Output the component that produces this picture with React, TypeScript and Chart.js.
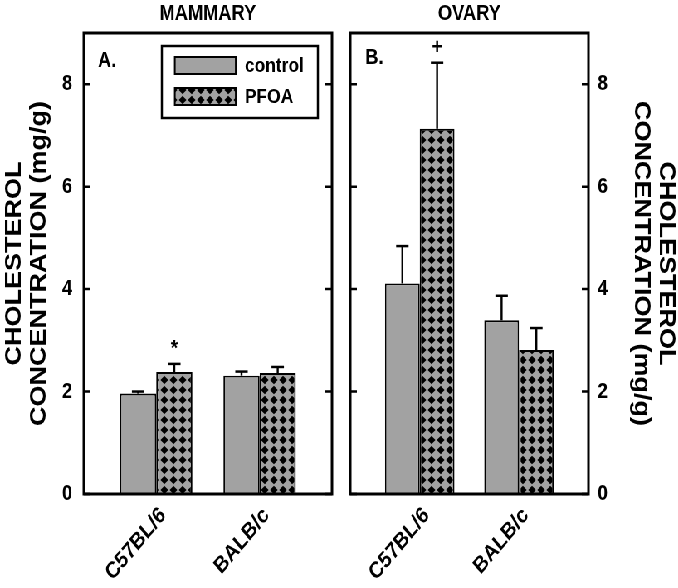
import { useEffect, useRef } from 'react';
import { Chart, registerables } from 'chart.js';

Chart.register(...registerables);

// ---------- data ----------
const categories = ['C57BL/6', 'BALB/c'];
const seriesLabels = ['control', 'PFOA'];
const yTicks = [0, 2, 4, 6, 8];
const yMax = 9;

const mammaryControl = [1.96, 2.31];
const mammaryControlErr = [0.04, 0.08];
const mammaryPfoa = [2.38, 2.36];
const mammaryPfoaErr = [0.16, 0.12];
const mammaryMarks = ['*', ''];

const ovaryControl = [4.11, 3.39];
const ovaryControlErr = [0.73, 0.48];
const ovaryPfoa = [7.13, 2.81];
const ovaryPfoaErr = [1.29, 0.43];
const ovaryMarks = ['+', ''];

const panelTitles = ['MAMMARY', 'OVARY'];
const panelLetters = ['A.', 'B.'];
const yTitle = ['CHOLESTEROL', 'CONCENTRATION (mg/g)'];

// ---------- style ----------
const SQUEEZE = 0.83;
const FONT = '"Liberation Sans", Arial, Helvetica, sans-serif';
const GRAY = '#a2a2a2';
const LEFT_W = 410;
const RIGHT_W = 407;
const H = 588;

Chart.defaults.font.family = FONT;

function makePattern(ctx: CanvasRenderingContext2D): CanvasPattern | string {
  const t = document.createElement('canvas');
  t.width = 11;
  t.height = 10;
  const c = t.getContext('2d');
  if (!c) return '#555';
  c.fillStyle = '#000';
  c.fillRect(0, 0, 11, 10);
  c.fillStyle = GRAY;
  c.beginPath();
  c.moveTo(5.5, -0.8);
  c.lineTo(11.8, 5);
  c.lineTo(5.5, 10.8);
  c.lineTo(-0.8, 5);
  c.closePath();
  c.fill();
  return ctx.createPattern(t, 'repeat') || '#555';
}

type PanelSpec = {
  title: string;
  letter: string;
  side: 'left' | 'right';
  control: number[];
  controlErr: number[];
  pfoa: number[];
  pfoaErr: number[];
  marks: string[];
  legend: boolean;
};

function buildPanel(canvas: HTMLCanvasElement, p: PanelSpec) {
  const ctx = canvas.getContext('2d') as CanvasRenderingContext2D;
  const pattern = makePattern(ctx);
  const errs = [p.controlErr, p.pfoaErr];
  const isLeft = p.side === 'left';

  const decor = {
    id: 'decor',
    afterDatasetsDraw(chart: any) {
      const c: CanvasRenderingContext2D = chart.ctx;
      const a = chart.chartArea;
      const y = chart.scales.y;
      c.save();
      c.strokeStyle = '#000';
      c.fillStyle = '#000';

      // error bars (upper only)
      chart.data.datasets.forEach((ds: any, i: number) => {
        const meta = chart.getDatasetMeta(i);
        meta.data.forEach((el: any, j: number) => {
          const v = ds.data[j].y;
          const top = y.getPixelForValue(v + errs[i][j]);
          c.lineWidth = 2.4;
          c.beginPath();
          c.moveTo(el.x, el.y);
          c.lineTo(el.x, top);
          c.stroke();
          c.lineWidth = 2.5;
          c.beginPath();
          c.moveTo(el.x - 7.5, top);
          c.lineTo(el.x + 7.5, top);
          c.stroke();
          if (i === 1 && p.marks[j]) {
            c.font = `bold 22px ${FONT}`;
            c.textAlign = 'center';
            c.textBaseline = 'bottom';
            c.fillText(p.marks[j], el.x, top - 4);
          }
        });
      });

      // frame
      c.lineWidth = 3;
      c.strokeRect(a.left, a.top, a.right - a.left, a.bottom - a.top);

      // inward ticks on both sides
      c.lineWidth = 2.5;
      yTicks.forEach((v) => {
        const py = y.getPixelForValue(v);
        c.beginPath();
        c.moveTo(a.left, py);
        c.lineTo(a.left + 8, py);
        c.moveTo(a.right - 8, py);
        c.lineTo(a.right, py);
        c.stroke();
      });

      // panel letter
      c.font = `bold 22px ${FONT}`;
      c.textAlign = 'left';
      c.textBaseline = 'middle';
      c.fillText(p.letter, a.left + (isLeft ? 17 : 18), a.top + (isLeft ? 28 : 25));

      // legend
      if (p.legend) {
        const lx = a.left + 94;
        const ly = a.top + 13;
        c.lineWidth = 2.5;
        c.strokeRect(lx, ly, 188, 72);
        chart.data.datasets.forEach((ds: any, i: number) => {
          const sy = ly + 11 + i * 31;
          c.fillStyle = ds.backgroundColor;
          c.fillRect(lx + 15.6, sy, 73.5, 17);
          c.lineWidth = 2;
          c.strokeRect(lx + 15.6, sy, 73.5, 17);
          c.fillStyle = '#000';
          c.font = `bold 21px ${FONT}`;
          c.textAlign = 'left';
          c.textBaseline = 'middle';
          c.fillText(ds.label, lx + 100, sy + 9);
        });
      }
      c.restore();
    },
  };

  const tickFont = { family: FONT, size: 22, weight: 'bold' as const };

  return new Chart(canvas, {
    type: 'bar',
    data: {
      datasets: [
        {
          label: seriesLabels[0],
          data: categories.map((_, i) => ({ x: i, y: p.control[i] })),
          backgroundColor: GRAY,
          borderColor: '#000',
          borderWidth: 1.8,
          categoryPercentage: 0.7,
          barPercentage: 1,
        },
        {
          label: seriesLabels[1],
          data: categories.map((_, i) => ({ x: i, y: p.pfoa[i] })),
          backgroundColor: pattern as any,
          borderColor: '#000',
          borderWidth: 2,
          categoryPercentage: 0.7,
          barPercentage: 1,
        },
      ] as any,
    },
    options: {
      animation: false,
      responsive: true,
      maintainAspectRatio: false,
      events: [],
      layout: {
        padding: isLeft
          ? { left: 0, right: 10, top: 0, bottom: 0 }
          : { left: 12, right: 0, top: 0, bottom: 0 },
      },
      plugins: {
        legend: { display: false },
        tooltip: { enabled: false },
        title: {
          display: true,
          fullSize: false,
          text: p.title,
          color: '#000',
          font: { family: FONT, size: 22, weight: 'bold', lineHeight: 1 },
          padding: { top: 3, bottom: 8 },
        },
      },
      scales: {
        x: {
          type: 'linear',
          min: -0.7,
          max: 1.7,
          offset: false,
          grid: { display: false, drawTicks: false, offset: false },
          border: { display: false },
          afterBuildTicks: (s: any) => {
            s.ticks = categories.map((_, i) => ({ value: i }));
          },
          afterFit: (s: any) => {
            s.height = 94;
          },
          ticks: {
            autoSkip: false,
            minRotation: 45,
            maxRotation: 45,
            padding: 8,
            labelOffset: 8,
            color: '#000',
            font: { family: FONT, size: 23, weight: 'bold' },
            callback: (v: any) => categories[Math.round(Number(v))] ?? '',
          },
        },
        y: {
          position: p.side,
          min: 0,
          max: yMax,
          grid: { display: false, drawTicks: false },
          border: { display: false },
          afterBuildTicks: (s: any) => {
            s.ticks = yTicks.map((v) => ({ value: v }));
          },
          afterFit: (s: any) => {
            s.width = isLeft ? 101 : 108;
          },
          ticks: {
            color: '#000',
            font: tickFont,
            padding: isLeft ? 14 : 11,
          },
          title: {
            display: true,
            text: yTitle,
            color: '#000',
            font: { family: FONT, size: 27, weight: 'bold', lineHeight: 30 / 27 },
            padding: { top: isLeft ? 3 : 0, bottom: 0 },
          },
        },
      } as any,
    },
    plugins: [decor],
  });
}

export default function App() {
  const leftRef = useRef<HTMLCanvasElement>(null);
  const rightRef = useRef<HTMLCanvasElement>(null);

  useEffect(() => {
    if (!leftRef.current || !rightRef.current) return;
    const charts = [
      buildPanel(leftRef.current, {
        title: panelTitles[0],
        letter: panelLetters[0],
        side: 'left',
        control: mammaryControl,
        controlErr: mammaryControlErr,
        pfoa: mammaryPfoa,
        pfoaErr: mammaryPfoaErr,
        marks: mammaryMarks,
        legend: true,
      }),
      buildPanel(rightRef.current, {
        title: panelTitles[1],
        letter: panelLetters[1],
        side: 'right',
        control: ovaryControl,
        controlErr: ovaryControlErr,
        pfoa: ovaryPfoa,
        pfoaErr: ovaryPfoaErr,
        marks: ovaryMarks,
        legend: false,
      }),
    ];
    return () => charts.forEach((c) => c.destroy());
  }, []);

  return (
    <div
      style={{
        position: 'fixed',
        left: 0,
        top: 0,
        width: 678,
        height: H,
        overflow: 'hidden',
        background: '#fff',
      }}
    >
      <div
        style={{
          width: LEFT_W + RIGHT_W,
          height: H,
          display: 'flex',
          transform: `scaleX(${SQUEEZE})`,
          transformOrigin: '0 0',
        }}
      >
        <div style={{ position: 'relative', width: LEFT_W, height: H, flex: 'none' }}>
          <canvas ref={leftRef} />
        </div>
        <div style={{ position: 'relative', width: RIGHT_W, height: H, flex: 'none' }}>
          <canvas ref={rightRef} />
        </div>
      </div>
    </div>
  );
}
